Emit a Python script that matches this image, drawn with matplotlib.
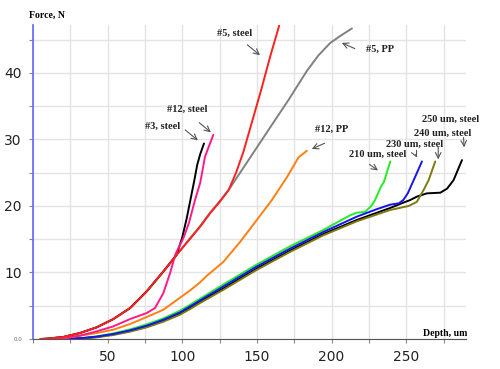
import matplotlib.pyplot as plt
import numpy as np

# force-depth curves (depth um, force N)
d_3steel = [5, 9.2, 20.3, 31.5, 42.6, 53.8, 65, 76.1, 87.3, 96.2, 100, 103, 105.5, 108, 110, 112, 114.5]
f_3steel = [0, 0.05, 0.3, 0.9, 1.75, 3.0, 4.65, 7.15, 10.15, 12.65, 15.3, 18.2, 21.0, 23.8, 26.2, 27.8, 29.4]

d_12steel = [10, 20.3, 31.5, 42.6, 53.8, 65, 76.1, 81.7, 87.3, 91.8, 95.5, 101, 104.5, 108.5, 112, 115.2, 117.5, 120.8]
f_12steel = [0, 0.15, 0.5, 1.15, 1.9, 3.0, 3.9, 4.65, 6.9, 9.9, 12.8, 15.3, 17.5, 20.9, 23.5, 27.4, 28.8, 30.7]

d_5steel = [5, 9.2, 20.3, 31.5, 42.6, 53.8, 65, 76.1, 87.3, 96.2, 105, 112, 118.6, 125, 131,
            136, 141, 147, 153, 159, 165.5]
f_5steel = [0, 0.05, 0.3, 0.9, 1.75, 3.0, 4.65, 7.15, 10.15, 12.65, 15.0, 16.9, 18.9, 20.6, 22.4,
            25.0, 28.2, 32.9, 37.6, 42.6, 47.6]

d_5pp = [5, 9.2, 20.3, 31.5, 42.6, 53.8, 65, 76.1, 87.3, 96.2, 105, 112, 118.6, 125, 131,
         145.8, 158.8, 171, 183.4, 191, 199, 206, 213.6]
f_5pp = [0, 0.05, 0.3, 0.9, 1.75, 3.0, 4.65, 7.15, 10.15, 12.65, 15.1, 17.0, 19.0, 20.7, 22.4,
         27.4, 31.8, 35.9, 40.3, 42.6, 44.5, 45.6, 46.7]

d_12pp = [10, 20.3, 42.6, 53.8, 65, 76.1, 87.3, 98.4, 105.2, 111.8, 116.4, 127.5, 138.7, 149.9,
          160, 170, 177.8, 183.4]
f_12pp = [0, 0.1, 0.9, 1.4, 2.25, 3.3, 4.4, 6.2, 7.3, 8.5, 9.5, 11.6, 14.6, 17.9,
          20.9, 24.3, 27.3, 28.3]

d_210 = [10, 31.5, 42.6, 53.8, 65, 76.1, 87.3, 98.4, 105.2, 111.8, 127.5, 149.9, 172.2, 194.5,
         212.4, 216.9, 222.4, 226.9, 229.1, 233, 235, 239.3]
f_210 = [0, 0.12, 0.4, 0.85, 1.45, 2.2, 3.1, 4.25, 5.15, 6.05, 8.2, 11.2, 13.95, 16.4,
         18.6, 19.0, 19.1, 20.1, 20.9, 22.9, 23.6, 26.7]

d_230 = [10, 31.5, 42.6, 53.8, 65, 76.1, 87.3, 98.4, 105.2, 111.8, 127.5, 149.9, 172.2, 194.5,
         216.9, 230, 239.2, 245, 248, 251, 255, 260.5]
f_230 = [0, 0.1, 0.35, 0.75, 1.3, 2.0, 2.9, 4.0, 4.9, 5.8, 7.9, 10.9, 13.6, 16.1,
         18.4, 19.5, 20.2, 20.4, 20.9, 21.9, 23.9, 26.7]

d_240 = [10, 31.5, 42.6, 53.8, 65, 76.1, 87.3, 98.4, 105.2, 111.8, 127.5, 149.9, 172.2, 194.5,
         216.9, 239.2, 251.5, 257, 261.6, 265, 269.4]
f_240 = [0, 0.05, 0.25, 0.6, 1.1, 1.75, 2.6, 3.65, 4.5, 5.4, 7.4, 10.4, 13.1, 15.6,
         17.7, 19.4, 20.0, 20.6, 22.4, 23.9, 26.7]

d_250 = [10, 31.5, 42.6, 53.8, 65, 76.1, 87.3, 98.4, 105.2, 111.8, 127.5, 149.9, 172.2, 194.5,
         216.9, 239.2, 248, 252.7, 257, 263.8, 272.8, 277.3, 281.7, 287.3]
f_250 = [0, 0.08, 0.3, 0.68, 1.2, 1.85, 2.75, 3.8, 4.7, 5.6, 7.6, 10.6, 13.3, 15.8,
         17.9, 19.7, 20.5, 20.9, 21.4, 21.9, 22.0, 22.6, 23.9, 26.9]

x_ticks = [0, 25, 50, 75, 100, 125, 150, 175, 200, 225, 250, 275]
x_labels = ['', '', '50', '', '100', '', '150', '', '200', '', '250', '']
y_ticks = [0, 5, 10, 15, 20, 25, 30, 35, 40, 45]
y_labels = ['0.0', '', '10', '', '20', '', '30', '', '40', '']

# label text, text pos, arrow tail, arrow tip
notes = [
    ('#3, steel', (86.5, 32.0), (100.5, 31.7), (111.9, 29.6)),
    ('#12, steel', (103.2, 34.6), (109.9, 32.8), (120.6, 30.8)),
    ('#5, steel', (134.7, 46.0), (142.1, 44.5), (153.5, 42.4)),
    ('#5, PP', (232.6, 43.5), (217.2, 43.5), (205.1, 44.7)),
    ('#12, PP', (199.7, 31.6), (197.0, 29.6), (185.0, 28.4)),
    ('210 um, steel', (230.5, 27.8), (223.8, 26.5), (232.6, 25.1)),
    ('230 um, steel', (255.4, 29.3), (255.4, 28.1), (258.0, 26.9)),
    ('240 um, steel', (274.1, 31.0), (271.4, 29.3), (271.4, 26.6)),
    ('250 um, steel', (279.5, 33.1), (288.2, 30.7), (288.9, 28.4)),
]

fig = plt.figure(figsize=(5, 3.69), dpi=100)
ax = fig.add_axes([0.066, 0.0813, 0.866, 0.8507])

lw = 1.4
kw = dict(lw=lw, solid_joinstyle='round', solid_capstyle='round')
ax.plot(d_5pp, f_5pp, color='#808080', **kw)
ax.plot(d_210, f_210, color='#22ee22', **kw)
ax.plot(d_250, f_250, color='black', **kw)
ax.plot(d_240, f_240, color='#7f7a10', **kw)
ax.plot(d_230, f_230, color='#1515ee', **kw)
ax.plot(d_12pp, f_12pp, color='#ff7f10', **kw)
ax.plot(d_3steel, f_3steel, color='black', **kw)
ax.plot(d_12steel, f_12steel, color='#ff1a8c', **kw)
ax.plot(d_5steel, f_5steel, color='#ff2020', **kw)

for txt, tpos, tail, tip in notes:
    ax.text(tpos[0], tpos[1], txt, family='Liberation Serif', fontweight='bold',
            fontsize=7.5, ha='center', va='center', color='#222222')
    ax.annotate('', xy=tip, xytext=tail,
                arrowprops=dict(arrowstyle='->', color='#555555', lw=0.8))

ax.set_xlim(0, 290)
ax.set_ylim(0, 47.2)
ax.set_xticks(x_ticks)
ax.set_xticklabels(x_labels)
ax.set_yticks(y_ticks)
ax.set_yticklabels(y_labels)
ax.tick_params(axis='both', labelsize=10, colors='#888888', labelcolor='#222222',
               length=3, pad=5)
zero_lbl = ax.get_yticklabels()[0]
zero_lbl.set_fontsize(4)
zero_lbl.set_color('#666666')
ax.grid(True, color='#e4e4e4', lw=1)
ax.set_axisbelow(True)

for s in ['top', 'right']:
    ax.spines[s].set_visible(False)
ax.spines['left'].set_color('#6f6fff')
ax.spines['left'].set_linewidth(1.3)
ax.spines['bottom'].set_color('#555555')

ax.text(-2.7, 48.6, 'Force, N', family='Liberation Serif', fontweight='bold',
        fontsize=7, ha='left', va='center', clip_on=False)
ax.text(261.4, 0.9, 'Depth, um', family='Liberation Serif', fontweight='bold',
        fontsize=7, ha='left', va='center')

fig.savefig('out.png', dpi=100)
